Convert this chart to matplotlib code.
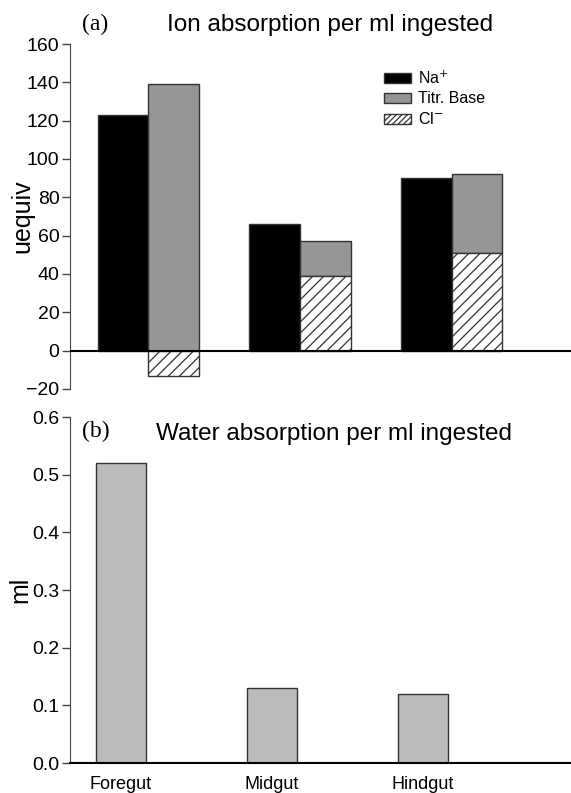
import matplotlib
matplotlib.use("Agg")
import matplotlib.pyplot as plt
from matplotlib.patches import Patch
import numpy as np

plt.rcParams['font.family'] = ['Liberation Sans', 'DejaVu Sans']
plt.rcParams['hatch.linewidth'] = 0.9

segments = ["Foregut", "Midgut", "Hindgut"]
na = [123, 66, 90]
titr_base_total = [139, 57, 92]
cl = [-13, 39, 51]
water = [0.52, 0.13, 0.12]

fig = plt.figure(figsize=(5.71, 7.93), dpi=100)

# ---------- panel (a) ----------
ax1 = fig.add_axes([0.1226, 0.5095, 0.8774, 0.435])
x = np.arange(len(segments))
w = 0.334
edge = '#333333'
ax1.bar(x - w/2, na, width=w, color='black', edgecolor=edge, linewidth=1.0, zorder=2)
cl_arr = np.array(cl)
base_bottom = np.where(cl_arr > 0, cl_arr, 0)
base_height = np.array(titr_base_total) - base_bottom
ax1.bar(x + w/2, base_height, bottom=base_bottom, width=w, color='#969696',
        edgecolor=edge, linewidth=1.0, zorder=2)
ax1.bar(x + w/2, cl, width=w, color='white', edgecolor=edge, hatch='///',
        linewidth=1.0, zorder=2)
ax1.axhline(0, color='black', lw=1.5, zorder=3)
ax1.set_xlim(-0.5166, 2.788)
ax1.set_ylim(-20, 160)
ax1.set_yticks(np.arange(-20, 161, 20))
ax1.set_xticks([])
for s in ['top', 'right', 'bottom']:
    ax1.spines[s].set_visible(False)
ax1.spines['left'].set_color('#444444')
ax1.tick_params(axis='y', direction='out', length=6, width=1, pad=1.5,
                labelsize=14, color='#444444')
ax1.set_ylabel('uequiv', fontsize=18)
ax1.yaxis.set_label_coords(-0.071, 0.5)
fig.text(0.1436, 0.969, '(a)', fontsize=17, family='Liberation Serif',
         ha='left', va='center')
fig.text(0.578, 0.968, 'Ion absorption per ml ingested', fontsize=17.5,
         ha='center', va='center')

handles = [Patch(facecolor='black', edgecolor=edge, label='Na$^{+}$'),
           Patch(facecolor='#969696', edgecolor=edge, label='Titr. Base'),
           Patch(facecolor='white', edgecolor=edge, hatch='//////', label='Cl$^{-}$')]
ax1.legend(handles=handles, loc='upper left', bbox_to_anchor=(0.613, 0.945),
           frameon=False, fontsize=11.5, handlelength=1.7, handleheight=0.6,
           labelspacing=0.3, handletextpad=0.45, borderaxespad=0)

# ---------- panel (b) ----------
ax2 = fig.add_axes([0.1226, 0.0378, 0.8774, 0.4363])
ax2.bar(x, water, width=0.33, color='#bbbbbb', edgecolor=edge, linewidth=1.0, zorder=2)
ax2.set_xlim(-0.338, 2.98)
ax2.set_ylim(0, 0.6)
ax2.set_yticks(np.arange(0, 0.61, 0.1))
ax2.set_yticklabels([f"{v:.1f}" for v in np.arange(0, 0.61, 0.1)])
ax2.set_xticks(x)
ax2.set_xticklabels(segments)
for s in ['top', 'right']:
    ax2.spines[s].set_visible(False)
ax2.spines['left'].set_color('#444444')
ax2.spines['bottom'].set_linewidth(1.5)
ax2.tick_params(axis='y', direction='out', length=6, width=1, pad=1.5,
                labelsize=14, color='#444444')
ax2.tick_params(axis='x', length=0, pad=9, labelsize=13)
ax2.set_ylabel('ml', fontsize=18)
ax2.yaxis.set_label_coords(-0.075, 0.5)
fig.text(0.1436, 0.456, '(b)', fontsize=17, family='Liberation Serif',
         ha='left', va='center')
fig.text(0.585, 0.453, 'Water absorption per ml ingested', fontsize=17.5,
         ha='center', va='center')

fig.savefig('out.png', dpi=100)
